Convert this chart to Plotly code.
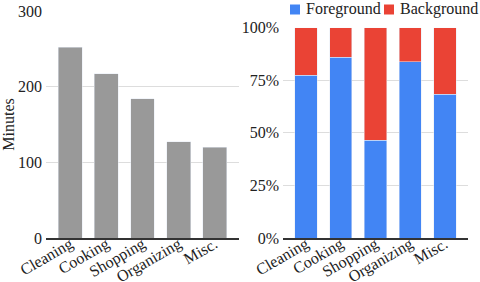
import plotly.graph_objects as go

categories = ["Cleaning", "Cooking", "Shopping", "Organizing", "Misc."]
minutes = [252, 217, 184, 127, 120]
foreground = [0.773, 0.86, 0.465, 0.838, 0.684]
background = [1 - v for v in foreground]
y_ticks_left = [0, 100, 200, 300]
y_ticks_right = [0, 0.25, 0.5, 0.75, 1.0]
y_ticktext_right = ["0%", "25%", "50%", "75%", "100%"]
series_names = ["Foreground", "Background"]
series_colors = ["#4285F4", "#EA4335"]

FONT = "Liberation Serif"
W, H = 480, 282

def fx(px):
    return px / W

def fy(py):
    return 1 - py / H

fig = go.Figure()
fig.add_trace(go.Bar(x=categories, y=minutes, marker_color="#999999",
                     showlegend=False, xaxis="x", yaxis="y", width=0.66))
fig.add_trace(go.Bar(x=categories, y=foreground, name=series_names[0],
                     marker_color=series_colors[0], xaxis="x2", yaxis="y2", width=0.64,
                     showlegend=False))
fig.add_trace(go.Bar(x=categories, y=background, name=series_names[1],
                     marker_color=series_colors[1], xaxis="x2", yaxis="y2", width=0.64,
                     showlegend=False))

axis_common = dict(tickfont=dict(family=FONT, size=16, color="#222"))

# legend drawn as text + swatches
legend_x = [290, 384]
for name, col, lx in zip(series_names, series_colors, legend_x):
    fig.add_shape(type="rect", xref="paper", yref="paper",
                  x0=fx(lx), x1=fx(lx + 10), y0=fy(14.5), y1=fy(4.5),
                  fillcolor=col, line=dict(width=0))
    fig.add_annotation(text=name, xref="paper", yref="paper", x=fx(lx + 14), y=fy(9.5),
                       xanchor="left", yanchor="middle", showarrow=False,
                       font=dict(family=FONT, size=16, color="#222"))

fig.update_layout(
    width=W, height=H,
    margin=dict(l=0, r=0, t=0, b=0, autoexpand=False),
    paper_bgcolor="white", plot_bgcolor="white",
    barmode="stack", showlegend=False,
    font=dict(family=FONT, size=16, color="#222"),
    xaxis=dict(domain=[fx(46), fx(239)], range=[-0.67, 4.67], tickangle=-30,
               showline=True, linecolor="#333", linewidth=1.5, ticks="",
               ticklabelstandoff=-11,
               showgrid=False, anchor="y", automargin=False, **axis_common),
    yaxis=dict(domain=[fy(238), fy(11)], range=[0, 300], tickvals=y_ticks_left,
               showgrid=True, gridcolor="#dddddd", zeroline=False, ticks="",
               ticklabelstandoff=3, automargin=False,
               title=dict(text="Minutes", font=dict(family=FONT, size=16, color="#222"),
                          standoff=4),
               anchor="x", **axis_common),
    xaxis2=dict(domain=[fx(283), fx(468)], range=[-0.66, 4.66], tickangle=-30,
                showline=True, linecolor="#333", linewidth=1.5, ticks="",
                ticklabelstandoff=-11,
                showgrid=False, anchor="y2", automargin=False, **axis_common),
    yaxis2=dict(domain=[fy(238), fy(27.7)], range=[0, 1], tickvals=y_ticks_right,
                ticktext=y_ticktext_right, showgrid=True, gridcolor="#dddddd",
                zeroline=False, ticks="", ticklabelstandoff=3, automargin=False,
                anchor="x2", **axis_common),
    bargap=0.35,
)

fig.write_html("out.html", config={"displayModeBar": False},
               post_script="document.body.style.margin='0';document.body.style.padding='0';")
